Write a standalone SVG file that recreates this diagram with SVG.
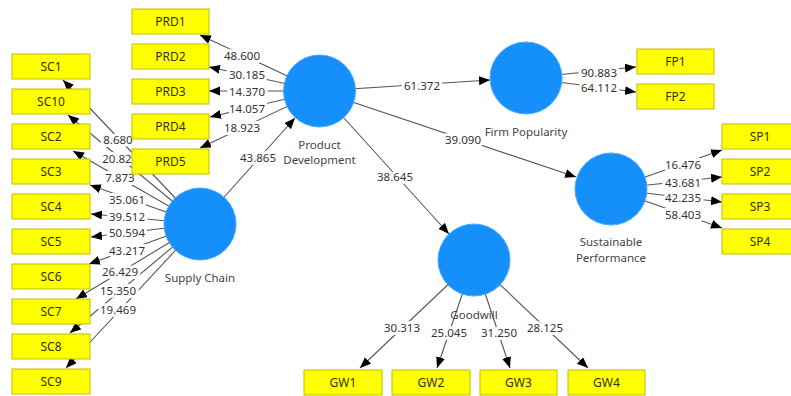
<svg xmlns="http://www.w3.org/2000/svg" width="791" height="396" viewBox="0 0 791 396">
<style>
.bg{fill:#ffffff}
.ln{stroke:#555555;stroke-width:1.1;fill:none;marker-end:url(#ah)}
.lb{font-family:"Noto Sans","Open Sans",sans-serif;font-size:11.5px;fill:#333333;text-anchor:middle;dominant-baseline:central;paint-order:stroke;stroke:#ffffff;stroke-width:6px;stroke-linejoin:round}
.bx rect{fill:#ffff00;stroke:#c4bc00;stroke-width:1}
.bx text{font-family:"Noto Sans","Open Sans",sans-serif;font-size:12px;fill:#333300;text-anchor:middle;dominant-baseline:central}
.lv circle{fill:#1590fb;stroke:#4aa8ff;stroke-width:1}
.lv text{font-family:"Noto Sans","Open Sans",sans-serif;font-size:11.5px;fill:#444444;text-anchor:middle}
</style>
<defs>
<marker id="ah" markerUnits="userSpaceOnUse" markerWidth="12" markerHeight="10" refX="11" refY="4.5" orient="auto">
<path d="M0,0 L11,4.5 L0,9 z" fill="#000000"/>
</marker>
</defs>
<rect class="bg" x="0" y="0" width="791" height="396"/>
<g id="connectors">
<line class="ln" x1="319.5" y1="91" x2="200" y2="35"/>
<line class="ln" x1="319.5" y1="91" x2="209" y2="67"/>
<line class="ln" x1="319.5" y1="91" x2="209" y2="91"/>
<line class="ln" x1="319.5" y1="91" x2="210" y2="117"/>
<line class="ln" x1="319.5" y1="91" x2="200" y2="148"/>
<line class="ln" x1="200" y1="224" x2="63" y2="80"/>
<line class="ln" x1="200" y1="224" x2="68" y2="115"/>
<line class="ln" x1="200" y1="224" x2="73" y2="151"/>
<line class="ln" x1="200" y1="224" x2="90" y2="185"/>
<line class="ln" x1="200" y1="224" x2="91" y2="214"/>
<line class="ln" x1="200" y1="224" x2="91" y2="237"/>
<line class="ln" x1="200" y1="224" x2="89" y2="264"/>
<line class="ln" x1="200" y1="224" x2="76" y2="299"/>
<line class="ln" x1="200" y1="224" x2="70" y2="333"/>
<line class="ln" x1="200" y1="224" x2="66" y2="368"/>
<line class="ln" x1="200" y1="224" x2="295" y2="118"/>
<line class="ln" x1="319.5" y1="91" x2="490" y2="80"/>
<line class="ln" x1="319.5" y1="91" x2="576" y2="177"/>
<line class="ln" x1="319.5" y1="91" x2="449" y2="234"/>
<line class="ln" x1="526" y1="78" x2="636" y2="67"/>
<line class="ln" x1="526" y1="78" x2="636" y2="92"/>
<line class="ln" x1="611" y1="189" x2="722" y2="150"/>
<line class="ln" x1="611" y1="189" x2="722" y2="177"/>
<line class="ln" x1="611" y1="189" x2="722" y2="202"/>
<line class="ln" x1="611" y1="189" x2="722" y2="228"/>
<line class="ln" x1="474" y1="260" x2="360" y2="368"/>
<line class="ln" x1="474" y1="260" x2="437" y2="368"/>
<line class="ln" x1="474" y1="260" x2="510" y2="368"/>
<line class="ln" x1="474" y1="260" x2="588" y2="368"/>
<text class="lb" x="242" y="55">48.600</text>
<text class="lb" x="247" y="74">30.185</text>
<text class="lb" x="247" y="91">14.370</text>
<text class="lb" x="247" y="108">14.057</text>
<text class="lb" x="242" y="127">18.923</text>
<text class="lb" x="118" y="139">8.680</text>
<text class="lb" x="117" y="158">20.82</text>
<text class="lb" x="120" y="177">7.873</text>
<text class="lb" x="127" y="199">35.061</text>
<text class="lb" x="127" y="216">39.512</text>
<text class="lb" x="127" y="232">50.594</text>
<text class="lb" x="127" y="250">43.217</text>
<text class="lb" x="120" y="271">26.429</text>
<text class="lb" x="118" y="290">15.350</text>
<text class="lb" x="118" y="309">19.469</text>
<text class="lb" x="258" y="157">43.865</text>
<text class="lb" x="422" y="85">61.372</text>
<text class="lb" x="463" y="139">39.090</text>
<text class="lb" x="395" y="176">38.645</text>
<text class="lb" x="599" y="72">90.883</text>
<text class="lb" x="599" y="87">64.112</text>
<text class="lb" x="683" y="164">16.476</text>
<text class="lb" x="683" y="182">43.681</text>
<text class="lb" x="683" y="197">42.235</text>
<text class="lb" x="683" y="214">58.403</text>
<text class="lb" x="402" y="327">30.313</text>
<text class="lb" x="449" y="332">25.045</text>
<text class="lb" x="499" y="332">31.250</text>
<text class="lb" x="545" y="327">28.125</text>
</g>
<g id="product-development" class="lv"><circle cx="319.5" cy="91" r="36"/><text x="319.5" y="149">Product</text><text x="319.5" y="164">Development</text></g>
<g id="firm-popularity" class="lv"><circle cx="526" cy="78" r="36"/><text x="526" y="136">Firm Popularity</text></g>
<g id="sustainable-performance" class="lv"><circle cx="611" cy="189" r="36"/><text x="611" y="246">Sustainable</text><text x="611" y="262">Performance</text></g>
<g id="goodwill" class="lv"><circle cx="474" cy="260" r="36"/><text x="474" y="319">Goodwill</text></g>
<g id="supply-chain" class="lv"><circle cx="200" cy="224" r="36"/><text x="200" y="282">Supply Chain</text></g>
<g id="PRD1" class="bx"><rect x="132" y="9" width="77" height="25"/><text x="170.5" y="21.5">PRD1</text></g>
<g id="PRD2" class="bx"><rect x="132" y="44" width="77" height="25"/><text x="170.5" y="56.5">PRD2</text></g>
<g id="PRD3" class="bx"><rect x="132" y="79" width="77" height="25"/><text x="170.5" y="91.5">PRD3</text></g>
<g id="PRD4" class="bx"><rect x="132" y="114" width="77" height="25"/><text x="170.5" y="126.5">PRD4</text></g>
<g id="PRD5" class="bx"><rect x="132" y="149" width="77" height="25"/><text x="170.5" y="161.5">PRD5</text></g>
<g id="SC1" class="bx"><rect x="12" y="54" width="78" height="25"/><text x="51" y="66.5">SC1</text></g>
<g id="SC10" class="bx"><rect x="12" y="89" width="78" height="25"/><text x="51" y="101.5">SC10</text></g>
<g id="SC2" class="bx"><rect x="12" y="124" width="78" height="25"/><text x="51" y="136.5">SC2</text></g>
<g id="SC3" class="bx"><rect x="12" y="159" width="78" height="25"/><text x="51" y="171.5">SC3</text></g>
<g id="SC4" class="bx"><rect x="12" y="194" width="78" height="25"/><text x="51" y="206.5">SC4</text></g>
<g id="SC5" class="bx"><rect x="12" y="229" width="78" height="25"/><text x="51" y="241.5">SC5</text></g>
<g id="SC6" class="bx"><rect x="12" y="264" width="78" height="25"/><text x="51" y="276.5">SC6</text></g>
<g id="SC7" class="bx"><rect x="12" y="299" width="78" height="25"/><text x="51" y="311.5">SC7</text></g>
<g id="SC8" class="bx"><rect x="12" y="334" width="78" height="25"/><text x="51" y="346.5">SC8</text></g>
<g id="SC9" class="bx"><rect x="12" y="369" width="78" height="25"/><text x="51" y="381.5">SC9</text></g>
<g id="FP1" class="bx"><rect x="637" y="49" width="77" height="25"/><text x="675.5" y="61.5">FP1</text></g>
<g id="FP2" class="bx"><rect x="637" y="84" width="77" height="25"/><text x="675.5" y="96.5">FP2</text></g>
<g id="SP1" class="bx"><rect x="722" y="124" width="78" height="25"/><text x="760" y="136.5">SP1</text></g>
<g id="SP2" class="bx"><rect x="722" y="159" width="78" height="25"/><text x="760" y="171.5">SP2</text></g>
<g id="SP3" class="bx"><rect x="722" y="194" width="78" height="25"/><text x="760" y="206.5">SP3</text></g>
<g id="SP4" class="bx"><rect x="722" y="229" width="78" height="25"/><text x="760" y="241.5">SP4</text></g>
<g id="GW1" class="bx"><rect x="304" y="370" width="78" height="25"/><text x="343" y="382.5">GW1</text></g>
<g id="GW2" class="bx"><rect x="392" y="370" width="78" height="25"/><text x="431" y="382.5">GW2</text></g>
<g id="GW3" class="bx"><rect x="480" y="370" width="77" height="25"/><text x="518.5" y="382.5">GW3</text></g>
<g id="GW4" class="bx"><rect x="568" y="370" width="77" height="25"/><text x="606.5" y="382.5">GW4</text></g>
</svg>
